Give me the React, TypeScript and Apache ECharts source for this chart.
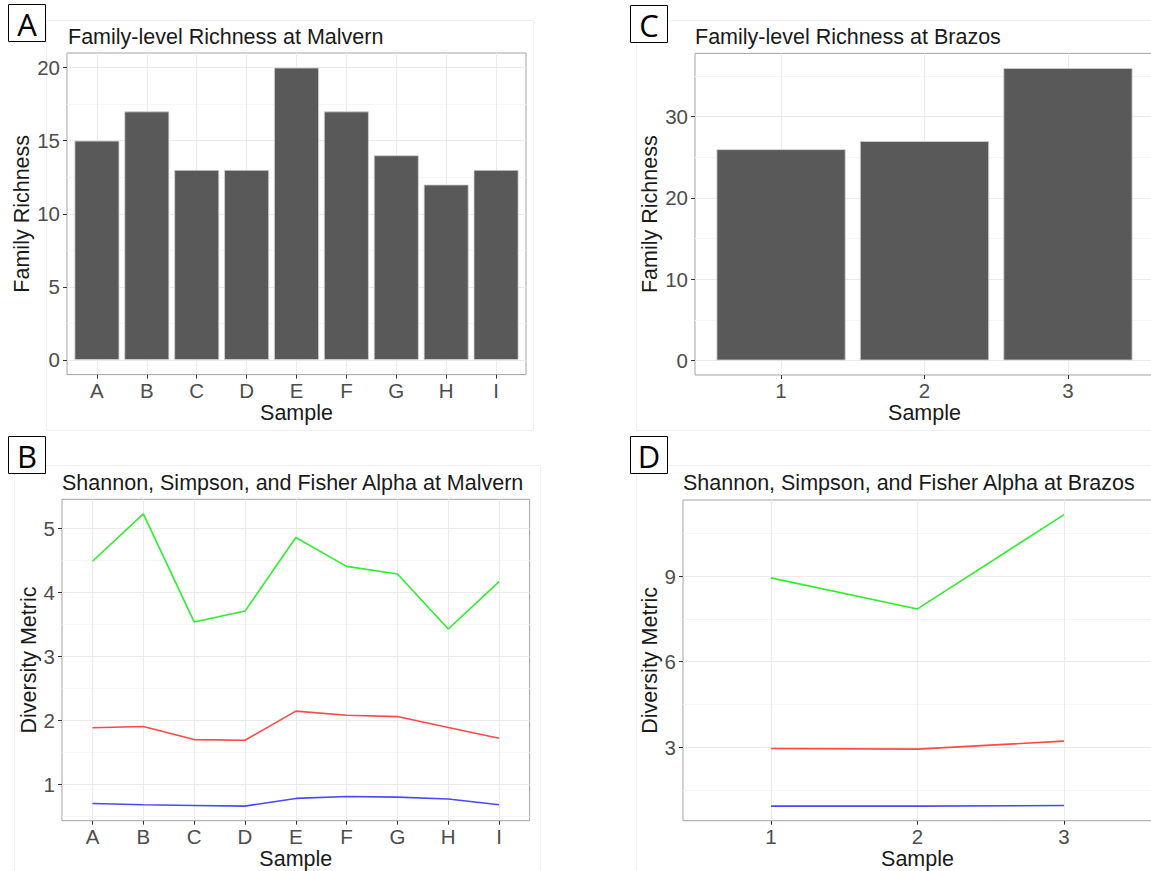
import React, { useEffect, useRef } from "react";
import * as echarts from "echarts";

// ---------------- data ----------------
const samplesMalvern = ["A", "B", "C", "D", "E", "F", "G", "H", "I"];
const samplesBrazos = ["1", "2", "3"];

const richnessMalvern = [15, 17, 13, 13, 20, 17, 14, 12, 13];
const richnessBrazos = [26, 27, 36];

const fisherMalvern = [4.49, 5.23, 3.54, 3.71, 4.86, 4.41, 4.29, 3.43, 4.17];
const shannonMalvern = [1.885, 1.905, 1.7, 1.69, 2.145, 2.08, 2.06, 1.89, 1.72];
const simpsonMalvern = [0.7, 0.68, 0.67, 0.66, 0.78, 0.81, 0.8, 0.77, 0.68];

const fisherBrazos = [8.94, 7.85, 11.16];
const shannonBrazos = [2.95, 2.93, 3.21];
const simpsonBrazos = [0.93, 0.93, 0.95];

const yTicksA = [0, 5, 10, 15, 20];
const yTicksC = [0, 10, 20, 30];
const yTicksB = [1, 2, 3, 4, 5];
const yTicksD = [3, 6, 9];

// ---------------- styling helpers ----------------
const FONT = "'Liberation Sans', Arial, Helvetica, sans-serif";
const GREEN = "#2cf02c";
const RED = "#ff4848";
const BLUE = "#4848ff";

// ggplot-like 5% expansion of the data range
function expand(values: number[]): [number, number] {
  const lo = Math.min(...values);
  const hi = Math.max(...values);
  const pad = (hi - lo) * 0.05;
  return [lo - pad, hi + pad];
}

type Rect = { x: number; y: number; w: number; h: number };

function panel(
  idx: number,
  rect: Rect,
  cats: string[],
  yRange: [number, number],
  yStep: number,
  yTicks: number[],
  yName: string,
  yNameGap: number,
  series: any[]
) {
  const catPos = cats.map((_, k) => k + 1);
  const grid = {
    left: rect.x,
    top: rect.y,
    width: rect.w,
    height: rect.h,
    show: true,
    borderColor: "#a3a3a3",
    borderWidth: 1,
    backgroundColor: "rgba(0,0,0,0)",
  };
  const xAxis = {
    gridIndex: idx,
    type: "value",
    min: 0.4,
    max: cats.length + 0.6,
    minInterval: 1,
    maxInterval: 1,
    axisLine: { show: false, onZero: false },
    axisTick: {
      show: true,
      length: 4,
      lineStyle: { color: "#333333", width: 1 },
      customValues: catPos,
    },
    axisLabel: {
      margin: 5,
      fontSize: 20.5,
      color: "#4d4d4d",
      fontFamily: FONT,
      customValues: catPos,
      formatter: (v: number) => {
        const k = Math.round(v);
        return Math.abs(v - k) < 1e-6 && k >= 1 && k <= cats.length ? cats[k - 1] : "";
      },
    },
    splitLine: { show: true, lineStyle: { color: "#ebebeb", width: 1 } },
    minorSplitLine: { show: false },
    name: "Sample",
    nameLocation: "middle",
    nameGap: 27,
    nameTextStyle: { fontSize: 21.5, color: "#1a1a1a", fontFamily: FONT },
  };
  const yAxis = {
    gridIndex: idx,
    type: "value",
    min: yRange[0],
    max: yRange[1],
    minInterval: yStep,
    maxInterval: yStep,
    axisLine: { show: false, onZero: false },
    axisTick: {
      show: true,
      length: 4,
      lineStyle: { color: "#333333", width: 1 },
      customValues: yTicks,
    },
    axisLabel: {
      margin: 7,
      fontSize: 20.5,
      color: "#4d4d4d",
      fontFamily: FONT,
      customValues: yTicks,
      formatter: (v: number) => (yTicks.some((t) => Math.abs(t - v) < 1e-6) ? String(v) : ""),
    },
    splitLine: { show: true, lineStyle: { color: "#ebebeb", width: 1 } },
    minorTick: { show: false, splitNumber: 2 },
    minorSplitLine: { show: true, lineStyle: { color: "#f5f5f5", width: 1 } },
    name: yName,
    nameLocation: "middle",
    nameGap: yNameGap,
    nameTextStyle: { fontSize: 21.5, color: "#1a1a1a", fontFamily: FONT },
  };
  const s = series.map((ser) => ({ ...ser, xAxisIndex: idx, yAxisIndex: idx }));
  return { grid, xAxis, yAxis, series: s };
}

function barSeries(values: number[]) {
  return {
    type: "bar",
    data: values.map((v, k) => [k + 1, v]),
    barWidth: "90%",
    itemStyle: { color: "#595959", borderColor: "#d2d2d2", borderWidth: 0.8 },
    silent: true,
  };
}

function lineSeries(values: number[], color: string) {
  return {
    type: "line",
    data: values.map((v, k) => [k + 1, v]),
    showSymbol: false,
    symbol: "none",
    lineStyle: { color, width: 1.6 },
    silent: true,
  };
}

function labelBox(letter: string, x: number, y: number) {
  return {
    type: "group",
    children: [
      {
        type: "rect",
        shape: { x: x + 0.5, y: y + 0.5, width: 37, height: 37 },
        style: { fill: "#ffffff", stroke: "#000000", lineWidth: 1 },
      },
      {
        type: "text",
        x: x + 19,
        y: y + 20,
        style: {
          text: letter,
          fontSize: 31,
          fontFamily: "'Open Sans', 'Noto Sans', sans-serif",
          fill: "#000000",
          align: "center",
          verticalAlign: "middle",
        },
      },
    ],
  };
}

function faintRect(x: number, y: number, w: number, h: number) {
  return {
    type: "rect",
    shape: { x: x + 0.5, y: y + 0.5, width: w, height: h },
    style: { fill: "none", stroke: "#efefef", lineWidth: 1 },
    z: -1,
  };
}

export default function App() {
  const ref = useRef<HTMLDivElement>(null);

  useEffect(() => {
    if (!ref.current) return;
    const chart = echarts.init(ref.current, undefined, { renderer: "svg" });

    const pA = panel(
      0,
      { x: 67, y: 53, w: 459, h: 321.6 },
      samplesMalvern,
      expand([0, ...richnessMalvern]),
      5,
      yTicksA,
      "Family Richness",
      31,
      [barSeries(richnessMalvern)]
    );
    const pC = panel(
      1,
      { x: 695, y: 53.4, w: 459, h: 321.6 },
      samplesBrazos,
      expand([0, ...richnessBrazos]),
      10,
      yTicksC,
      "Family Richness",
      34,
      [barSeries(richnessBrazos)]
    );
    const pB = panel(
      2,
      { x: 62, y: 499.3, w: 467.6, h: 321.4 },
      samplesMalvern,
      expand([...fisherMalvern, ...shannonMalvern, ...simpsonMalvern]),
      1,
      yTicksB,
      "Diversity Metric",
      22,
      [
        lineSeries(fisherMalvern, GREEN),
        lineSeries(shannonMalvern, RED),
        lineSeries(simpsonMalvern, BLUE),
      ]
    );
    const pD = panel(
      3,
      { x: 683, y: 500, w: 469, h: 320.7 },
      samplesBrazos,
      expand([...fisherBrazos, ...shannonBrazos, ...simpsonBrazos]),
      3,
      yTicksD,
      "Diversity Metric",
      22,
      [
        lineSeries(fisherBrazos, GREEN),
        lineSeries(shannonBrazos, RED),
        lineSeries(simpsonBrazos, BLUE),
      ]
    );
    const panels = [pA, pC, pB, pD];

    const titleStyle = { fontSize: 21.5, fontWeight: "normal", color: "#1a1a1a", fontFamily: FONT };

    const option: any = {
      animation: false,
      backgroundColor: "#ffffff",
      title: [
        { text: "Family-level Richness at Malvern", left: 68, top: 26, padding: 0, textStyle: titleStyle },
        { text: "Family-level Richness at Brazos", left: 695, top: 26, padding: 0, textStyle: titleStyle },
        { text: "Shannon, Simpson, and Fisher Alpha at Malvern", left: 62, top: 472, padding: 0, textStyle: titleStyle },
        { text: "Shannon, Simpson, and Fisher Alpha at Brazos", left: 683, top: 472, padding: 0, textStyle: titleStyle },
      ],
      grid: panels.map((p) => p.grid),
      xAxis: panels.map((p) => p.xAxis),
      yAxis: panels.map((p) => p.yAxis),
      series: panels.flatMap((p) => p.series),
      graphic: [
        faintRect(46, 20, 487, 410),
        faintRect(636, 20, 530, 410),
        faintRect(14, 465, 526, 420),
        faintRect(636, 465, 530, 420),
        labelBox("A", 8, 4),
        labelBox("C", 630, 5),
        labelBox("B", 8, 436),
        labelBox("D", 630, 436),
      ],
    };

    chart.setOption(option);
    return () => chart.dispose();
  }, []);

  return (
    <div style={{ position: "fixed", left: 0, top: 0, width: "100vw", height: "100vh", overflow: "hidden", background: "#fff" }}>
      <div ref={ref} style={{ width: 1165, height: 871 }} />
    </div>
  );
}
